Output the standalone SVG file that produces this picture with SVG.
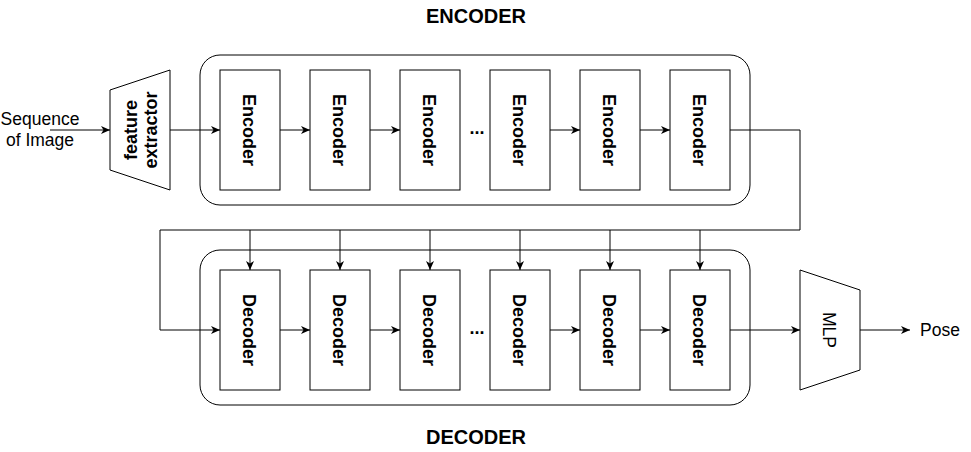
<svg xmlns="http://www.w3.org/2000/svg" width="971" height="452" viewBox="0 0 971 452">
<defs>
<marker id="arr" markerWidth="10" markerHeight="8" refX="9" refY="4" orient="auto" markerUnits="userSpaceOnUse">
<path d="M0,0 L9,4 L0,8 L2.5,4 Z" fill="#000"/>
</marker>
<style>
.box{fill:#fff;stroke:#000;stroke-width:1}
.cont{fill:none;stroke:#000;stroke-width:1}
.lbl{font-family:"Liberation Sans",Arial,sans-serif;font-weight:bold;font-size:18px;fill:#000;text-anchor:middle}
.txt{font-family:"Liberation Sans",Arial,sans-serif;font-size:17.5px;fill:#000}
.title{font-family:"Liberation Sans",Arial,sans-serif;font-weight:bold;font-size:20px;fill:#000;text-anchor:middle}
.ln{fill:none;stroke:#000;stroke-width:1}
.ar{fill:none;stroke:#000;stroke-width:1;marker-end:url(#arr)}
</style>
</defs>
<rect width="971" height="452" fill="#fff"/>

<g id="titles">
<text class="title" x="476" y="23">ENCODER</text>
<text class="title" x="476" y="444">DECODER</text>
</g>

<g id="input-label">
<text class="txt" x="40" y="125" text-anchor="middle">Sequence</text>
<text class="txt" x="40" y="146" text-anchor="middle">of Image</text>
</g>

<g id="encoder-container"><rect class="cont" x="200" y="55" width="550" height="150" rx="20"/></g>
<g id="decoder-container"><rect class="cont" x="200" y="250" width="550" height="155" rx="20"/></g>

<g id="feature-extractor">
<polygon class="box" points="110,90 170,70 170,190 110,170"/>
<text class="lbl" transform="translate(140,130) rotate(-90)"><tspan x="0" y="-3">feature</tspan><tspan x="0" y="17">extractor</tspan></text>
</g>

<g id="enc1"><rect class="box" x="220" y="70" width="60" height="120"/><text class="lbl" transform="translate(250,130) rotate(90)" y="7">Encoder</text></g>
<g id="enc2"><rect class="box" x="310" y="70" width="60" height="120"/><text class="lbl" transform="translate(340,130) rotate(90)" y="7">Encoder</text></g>
<g id="enc3"><rect class="box" x="400" y="70" width="60" height="120"/><text class="lbl" transform="translate(430,130) rotate(90)" y="7">Encoder</text></g>
<g id="enc4"><rect class="box" x="490" y="70" width="60" height="120"/><text class="lbl" transform="translate(520,130) rotate(90)" y="7">Encoder</text></g>
<g id="enc5"><rect class="box" x="580" y="70" width="60" height="120"/><text class="lbl" transform="translate(610,130) rotate(90)" y="7">Encoder</text></g>
<g id="enc6"><rect class="box" x="670" y="70" width="60" height="120"/><text class="lbl" transform="translate(700,130) rotate(90)" y="7">Encoder</text></g>
<g id="enc-dots"><text class="lbl" x="477" y="134">...</text></g>

<g id="dec1"><rect class="box" x="220" y="270" width="60" height="120"/><text class="lbl" transform="translate(250,330) rotate(90)" y="7">Decoder</text></g>
<g id="dec2"><rect class="box" x="310" y="270" width="60" height="120"/><text class="lbl" transform="translate(340,330) rotate(90)" y="7">Decoder</text></g>
<g id="dec3"><rect class="box" x="400" y="270" width="60" height="120"/><text class="lbl" transform="translate(430,330) rotate(90)" y="7">Decoder</text></g>
<g id="dec4"><rect class="box" x="490" y="270" width="60" height="120"/><text class="lbl" transform="translate(520,330) rotate(90)" y="7">Decoder</text></g>
<g id="dec5"><rect class="box" x="580" y="270" width="60" height="120"/><text class="lbl" transform="translate(610,330) rotate(90)" y="7">Decoder</text></g>
<g id="dec6"><rect class="box" x="670" y="270" width="60" height="120"/><text class="lbl" transform="translate(700,330) rotate(90)" y="7">Decoder</text></g>
<g id="dec-dots"><text class="lbl" x="477" y="334">...</text></g>

<g id="mlp">
<polygon class="box" points="800,270 860,290 860,370 800,390"/>
<text class="txt" text-anchor="middle" font-size="18" transform="translate(830,330) rotate(90)" y="7">MLP</text>
</g>

<g id="output-label"><text class="txt" x="920" y="336">Pose</text></g>

<g id="connectors">
<line class="ar" x1="50" y1="130" x2="110" y2="130"/>
<line class="ar" x1="170" y1="130" x2="220" y2="130"/>
<line class="ar" x1="280" y1="130" x2="310" y2="130"/>
<line class="ar" x1="370" y1="130" x2="400" y2="130"/>
<line class="ar" x1="550" y1="130" x2="580" y2="130"/>
<line class="ar" x1="640" y1="130" x2="670" y2="130"/>
<polyline class="ar" points="730,130 800,130 800,230 160,230 160,330 220,330"/>
<line class="ar" x1="250" y1="230" x2="250" y2="270"/>
<line class="ar" x1="340" y1="230" x2="340" y2="270"/>
<line class="ar" x1="430" y1="230" x2="430" y2="270"/>
<line class="ar" x1="520" y1="230" x2="520" y2="270"/>
<line class="ar" x1="610" y1="230" x2="610" y2="270"/>
<line class="ar" x1="700" y1="230" x2="700" y2="270"/>
<line class="ar" x1="280" y1="330" x2="310" y2="330"/>
<line class="ar" x1="370" y1="330" x2="400" y2="330"/>
<line class="ar" x1="550" y1="330" x2="580" y2="330"/>
<line class="ar" x1="640" y1="330" x2="670" y2="330"/>
<line class="ar" x1="730" y1="330" x2="800" y2="330"/>
<line class="ar" x1="860" y1="330" x2="910" y2="330"/>
</g>
</svg>
